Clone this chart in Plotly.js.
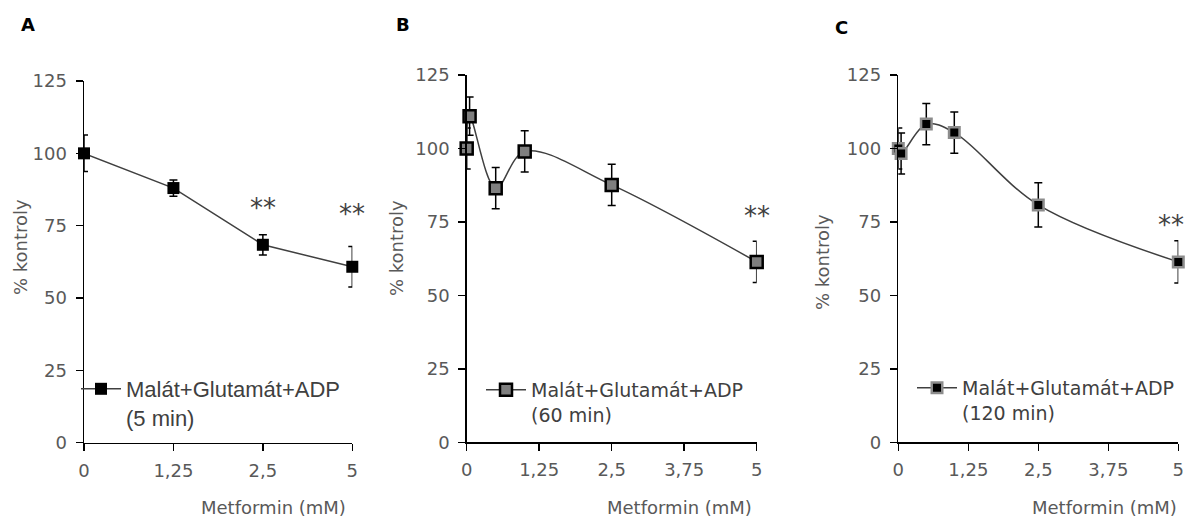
<!DOCTYPE html>
<html>
<head>
<meta charset="utf-8">
<script src="https://cdn.plot.ly/plotly-3.0.1.min.js"></script>
<style>
  html, body { margin: 0; padding: 0; background: #ffffff; }
  #chart { width: 1189px; height: 517px; }
</style>
</head>
<body>
<div id="chart"></div>
<script>
// Panel A: 5 min incubation, doses on an evenly spaced category axis
const doseA = ['0', '1,25', '2,5', '5'];
const meanA = [100, 88, 68.4, 60.8];
const errA  = [6.3, 2.8, 3.5, 7.0];

// Panel B: 60 min incubation
const doseB = [0, 0.05, 0.5, 1, 2.5, 5];
const meanB = [100, 111, 86.5, 99, 87.6, 61.4];
const errB  = [7.0, 6.5, 7.0, 7.0, 7.0, 7.0];

// Panel C: 120 min incubation
const doseC = [0, 0.05, 0.5, 1, 2.5, 5];
const meanC = [100, 98.3, 108.3, 105.4, 80.8, 61.4];
const errC  = [7.0, 7.0, 7.0, 7.0, 7.5, 7.2];

// Axis tick labels
const yTicks = [0, 25, 50, 75, 100, 125];
const xTicksBC = [0, 1.25, 2.5, 3.75, 5];
const xTickTextBC = ['0', '1,25', '2,5', '3,75', '5'];

// Series names shown in the legends
const nameA = 'Malát+Glutamát+ADP<br>(5 min)';
const nameB = 'Malát+Glutamát+ADP<br>(60 min)';
const nameC = 'Malát+Glutamát+ADP<br>(120 min)';

// Significance markers: dose and label
const sigA = [['2,5', '**'], ['5', '**']];
const sigB = [[5, '**']];
const sigC = [[5, '**']];

const TICK_GRAY = '#595959';
const LINE_GRAY = '#404040';
const FONT = '"DejaVu Sans", Verdana, sans-serif';

function errBars(arr) {
  return { type: 'data', array: arr, visible: true, color: '#000000', thickness: 1.5, width: 4 };
}

const traces = [
  {
    x: doseA, y: meanA, xaxis: 'x', yaxis: 'y', name: nameA, legend: 'legend',
    mode: 'lines+markers', cliponaxis: false,
    line: { color: LINE_GRAY, width: 1.5 },
    marker: { symbol: 'square', size: 12, color: '#000000', line: { color: '#000000', width: 0 } },
    error_y: errBars(errA)
  },
  {
    x: doseB, y: meanB, xaxis: 'x2', yaxis: 'y2', name: nameB, legend: 'legend2',
    mode: 'lines+markers', cliponaxis: false,
    line: { color: LINE_GRAY, width: 1.5, shape: 'spline', smoothing: 1 },
    marker: { symbol: 'square', size: 12, color: '#7f7f7f', line: { color: '#000000', width: 2.5 } },
    error_y: errBars(errB)
  },
  {
    x: doseC, y: meanC, xaxis: 'x3', yaxis: 'y3', name: nameC, legend: 'legend3',
    mode: 'lines+markers', cliponaxis: false,
    line: { color: LINE_GRAY, width: 1.5, shape: 'spline', smoothing: 1 },
    marker: { symbol: 'square', size: 10.5, color: '#000000', line: { color: '#8c8c8c', width: 2.5 } },
    error_y: errBars(errC)
  }
];

const tickFont = { family: FONT, size: 18, color: TICK_GRAY };

function yAxis(domain, anchor) {
  return {
    domain: domain, anchor: anchor, range: [0, 125], tickvals: yTicks,
    showgrid: false, zeroline: false, showline: true, linecolor: '#000000', linewidth: 1.5,
    ticks: 'outside', ticklen: 7, tickwidth: 1.5, tickcolor: '#000000',
    tickfont: tickFont, ticklabelstandoff: 5, fixedrange: true
  };
}
function xAxisBase(domain, anchor) {
  return {
    domain: domain, anchor: anchor,
    showgrid: false, zeroline: false, showline: true, linecolor: '#000000', linewidth: 1.5,
    ticks: 'outside', ticklen: 7, tickwidth: 1.5, tickcolor: '#000000',
    tickfont: tickFont, ticklabelstandoff: 4, fixedrange: true
  };
}

const W = 1189, H = 517;
const px = v => v / W;
const py = v => (H - v) / H;

const xA = Object.assign(xAxisBase([px(84), px(352.3)], 'y'), { type: 'category', categoryarray: doseA, range: [0, 3] });
const xB = Object.assign(xAxisBase([px(466.7), px(756.7)], 'y2'), { range: [0, 5], tickvals: xTicksBC, ticktext: xTickTextBC });
const xC = Object.assign(xAxisBase([px(898.3), px(1178.3)], 'y3'), { range: [0, 5], tickvals: xTicksBC, ticktext: xTickTextBC });

const annotations = [];
function label(text, x, y, opts) {
  annotations.push(Object.assign({
    text: text, x: x, y: y, xref: 'paper', yref: 'paper', showarrow: false,
    xanchor: 'center', yanchor: 'middle'
  }, opts));
}
// Panel letters
const letterFont = { family: FONT, size: 18, color: '#000000' };
label('<b>A</b>', px(28), py(25), { font: letterFont });
label('<b>B</b>', px(403), py(25), { font: letterFont });
label('<b>C</b>', px(841), py(27), { font: letterFont });
// Axis titles
const titleFont = { family: FONT, size: 18, color: TICK_GRAY };
[[20, 247], [396, 248], [822, 262]].forEach(p => {
  label('% kontroly', px(p[0]), py(p[1]), { textangle: -90, font: titleFont });
});
[[348, 507], [754, 507], [1179, 507]].forEach(p => {
  label('Metformin (mM)', px(p[0]), py(p[1]), { xanchor: 'right', font: titleFont });
});
// Significance stars above the error bars
const starFont = { family: FONT, size: 26, color: LINE_GRAY };
function star(x, y, xref, yref, text, shift) {
  annotations.push({ text: text, x: x, y: y, xref: xref, yref: yref, showarrow: false,
    xanchor: 'center', yanchor: 'middle', xshift: shift || 0, font: starFont });
}
const starYA = [81, 79];
sigA.forEach((s, i) => star(doseA.indexOf(s[0]), starYA[i], 'x', 'y', s[1]));
sigB.forEach(s => star(s[0], 77, 'x2', 'y2', s[1]));
sigC.forEach(s => star(s[0], 74, 'x3', 'y3', s[1], -7));

function legendAt(x, y, font) {
  return {
    x: px(x), y: py(y), xanchor: 'left', yanchor: 'top', bgcolor: 'rgba(0,0,0,0)',
    borderwidth: 0, valign: 'top', itemwidth: 40, font: font
  };
}

const layout = {
  width: W, height: H,
  margin: { l: 0, r: 0, t: 0, b: 0 },
  paper_bgcolor: '#ffffff', plot_bgcolor: 'rgba(0,0,0,0)',
  showlegend: true,
  xaxis: xA, yaxis: yAxis([py(442.7), py(81)], 'x'),
  xaxis2: xB, yaxis2: yAxis([py(442.3), py(75)], 'x2'),
  xaxis3: xC, yaxis3: yAxis([py(442.3), py(75)], 'x3'),
  legend: legendAt(76, 368, { family: '"Liberation Sans", Arial, sans-serif', size: 22, color: LINE_GRAY }),
  legend2: legendAt(481, 371, { family: FONT, size: 19, color: LINE_GRAY }),
  legend3: legendAt(912, 369, { family: FONT, size: 19, color: LINE_GRAY }),
  annotations: annotations
};

Plotly.newPlot('chart', traces, layout, { staticPlot: true, displayModeBar: false });
</script>
</body>
</html>
